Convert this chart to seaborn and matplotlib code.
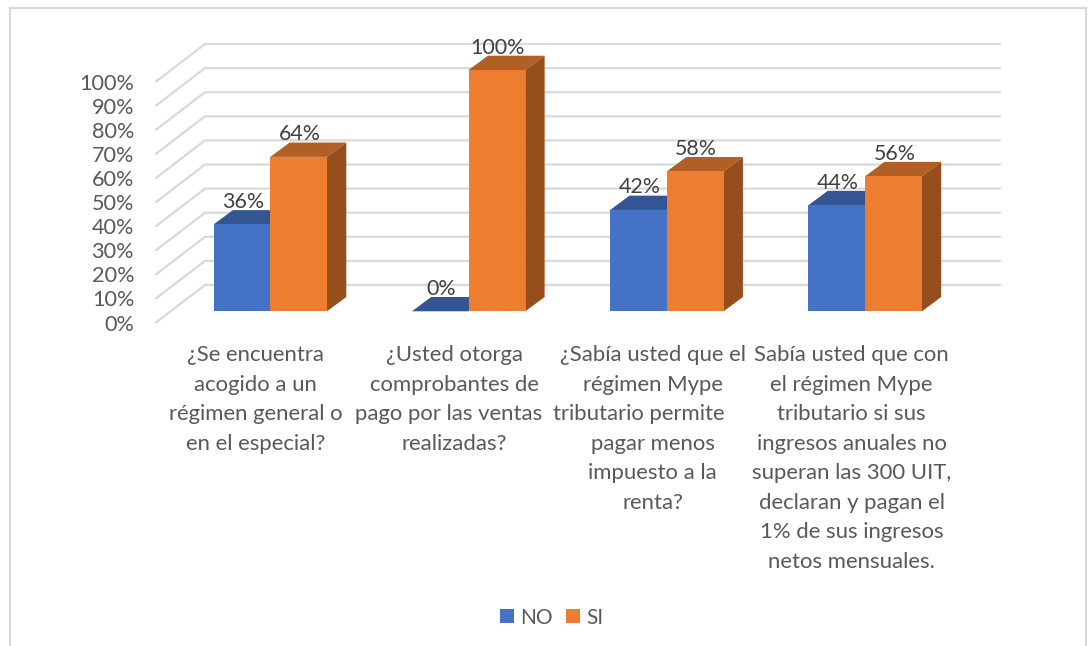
import matplotlib
matplotlib.use("Agg")
import matplotlib.pyplot as plt
import pandas as pd
import seaborn as sns
from matplotlib.patches import Polygon, Patch

categories = [
    "¿Se encuentra\nacogido a un\nrégimen general o\nen el especial?",
    "¿Usted otorga\ncomprobantes de\npago por las ventas  \nrealizadas?",
    "¿Sabía usted que el\nrégimen Mype\ntributario permite     \npagar menos\nimpuesto a la\nrenta?",
    "Sabía usted que con\nel régimen Mype\ntributario si sus\ningresos anuales no\nsuperan las 300 UIT,\ndeclaran y pagan el\n1% de sus ingresos\nnetos mensuales.",
]
no_values = [36, 0, 42, 44]
si_values = [64, 100, 58, 56]
series_names = ["NO", "SI"]
y_ticks = list(range(0, 101, 10))

W, H = 1091, 646
FONT_TICK = 15.6
FONT_CAT = 15.9
FONT_LABEL = 15.4
FONT_LEGEND = 15.0
GRID = "#D9D9D9"
front = {"NO": "#4472C4", "SI": "#ED7D31"}
top_face = {"#4472C4": "#335593", "#ED7D31": "#B25F25"}
side_face = {"#4472C4": "#2B4A80", "#ED7D31": "#964F1C"}

sns.set_theme(style="white")
plt.rcParams["font.family"] = ["Lato", "DejaVu Sans"]

fig = plt.figure(figsize=(W / 100, H / 100), dpi=100)


def px_axes(x0, x1, y_top, y_bottom, **kw):
    return fig.add_axes([x0 / W, 1 - y_bottom / H, (x1 - x0) / W, (y_bottom - y_top) / H], **kw)


# outer frame, open at the bottom
frame = px_axes(10, 1085.5, 8, 660)
frame.set_xticks([])
frame.set_yticks([])
for name, sp in frame.spines.items():
    sp.set_visible(name != "bottom")
    sp.set_color(GRID)
    sp.set_linewidth(1.5)
frame.patch.set_alpha(0)

# wall: front plane of the 3D box
wall = px_axes(156, 951, 81.5, 322.5)
wall.set_xlim(-0.5, 3.5)
wall.set_ylim(0, 100)
wall.patch.set_alpha(0)
for sp in wall.spines.values():
    sp.set_visible(False)
back_dx = 49 / 198.75
back_dy = 37.5 / 2.41
for v in y_ticks:
    wall.plot([-0.5, -0.5 + back_dx, 3.5 + back_dx], [v, v + back_dy, v + back_dy],
              color=GRID, lw=1.6, clip_on=False, solid_joinstyle="miter", zorder=1)
wall.set_yticks(y_ticks)
wall.set_yticklabels(["" if v == 0 else f"{v}%" for v in y_ticks], fontsize=FONT_TICK, color="#595959")
wall.annotate("0%", xy=(0, 0), xycoords=("axes fraction", "data"), xytext=(-15.8, -2),
              textcoords="offset points", ha="right", va="center", fontsize=FONT_TICK, color="#595959")
wall.set_xticks(range(len(categories)))
wall.set_xticklabels(categories, fontsize=FONT_CAT, color="#595959", linespacing=1.597, ha="center", va="top")
wall.tick_params(axis="y", length=0, pad=15.8)
wall.tick_params(axis="x", length=0, pad=16.2)

# bars: plane of the bar fronts
ax = px_axes(171.15, 964.35, 70, 311.3)
df = pd.DataFrame({
    "categoria": list(range(len(categories))) * 2,
    "serie": [series_names[0]] * len(no_values) + [series_names[1]] * len(si_values),
    "valor": no_values + si_values,
})
sns.barplot(data=df, x="categoria", y="valor", hue="serie", palette=front, hue_order=series_names,
            width=0.572, gap=0, dodge=True, saturation=1, legend=False, ax=ax, zorder=5)
ax.set_xlim(-0.5, 3.5)
ax.set_ylim(0, 100)
ax.axis("off")
ax.patch.set_alpha(0)

depth_x = 19.3 / 198.3
depth_y = 14.3 / 2.413
for bar in ax.patches:
    x0, x1 = bar.get_x(), bar.get_x() + bar.get_width()
    h = bar.get_height()
    colour = matplotlib.colors.to_hex(bar.get_facecolor()).upper()
    z = 3 if colour == "#4472C4" else 4
    bar.set_zorder(z + 0.5)
    bar.set_linewidth(0)
    ax.add_patch(Polygon([(x0, h), (x1, h), (x1 + depth_x, h + depth_y), (x0 + depth_x, h + depth_y)],
                         closed=True, fc=top_face[colour], ec="none", clip_on=False, zorder=z))
    ax.add_patch(Polygon([(x1, 0), (x1 + depth_x, depth_y), (x1 + depth_x, h + depth_y), (x1, h)],
                         closed=True, fc=side_face[colour], ec="none", clip_on=False, zorder=z))
    ax.annotate(f"{h:.0f}%", xy=((x0 + x1) / 2, h), xytext=(0.7, 16.2), textcoords="offset points",
                ha="center", va="center", fontsize=FONT_LABEL, color="#404040", zorder=10, annotation_clip=False)

handles = [Patch(fc=front[s], ec="none", label=s) for s in series_names]
fig.legend(handles=handles, loc="center", bbox_to_anchor=(551.5 / W, 1 - 617.5 / H), ncol=2, frameon=False,
           fontsize=FONT_LEGEND, labelcolor="#595959", handlelength=0.67, handleheight=0.67,
           handletextpad=0.3, columnspacing=0.62, borderpad=0, borderaxespad=0)

fig.savefig("out.png", dpi=100, facecolor="white")
